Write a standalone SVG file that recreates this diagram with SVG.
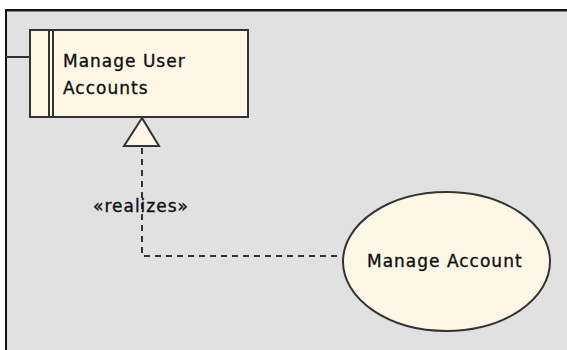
<svg xmlns="http://www.w3.org/2000/svg" width="567" height="350" viewBox="0 0 567 350">
<style>
.shape{fill:#FFF7E6;stroke:#333;stroke-width:2}
.lbl{font-family:"DejaVu Sans",Verdana,sans-serif;font-size:17px;letter-spacing:1px;fill:#111;stroke:#111;stroke-width:0.35}
.dash{fill:none;stroke:#333;stroke-width:2;stroke-dasharray:6 5}
</style>
<rect x="0" y="0" width="567" height="350" fill="#ffffff"/>
<rect x="6" y="10" width="570" height="350" fill="#E1E1E1" stroke="#111" stroke-width="2"/>
<line x1="7" y1="11.5" x2="567" y2="11.5" stroke="#888" stroke-width="1"/>
<g id="connectors">
  <line x1="6" y1="57" x2="30" y2="57" stroke="#333" stroke-width="2"/>
  <polyline class="dash" points="142,148 142,256 342,256"/>
  <polygon class="shape" points="142,118 124,146 159,146"/>
  <text class="lbl" x="93" y="212">«realizes»</text>
</g>
<g id="node-manage-user-accounts">
  <rect class="shape" x="30" y="30" width="218" height="87"/>
  <line x1="49" y1="30" x2="49" y2="117" stroke="#333" stroke-width="2"/>
  <line x1="53" y1="30" x2="53" y2="117" stroke="#333" stroke-width="2"/>
  <text class="lbl" x="63" y="67">Manage User</text>
  <text class="lbl" x="63" y="94">Accounts</text>
</g>
<g id="node-manage-account">
  <ellipse class="shape" cx="446.5" cy="261.5" rx="103.5" ry="69.5"/>
  <text class="lbl" x="367" y="267">Manage Account</text>
</g>
</svg>
